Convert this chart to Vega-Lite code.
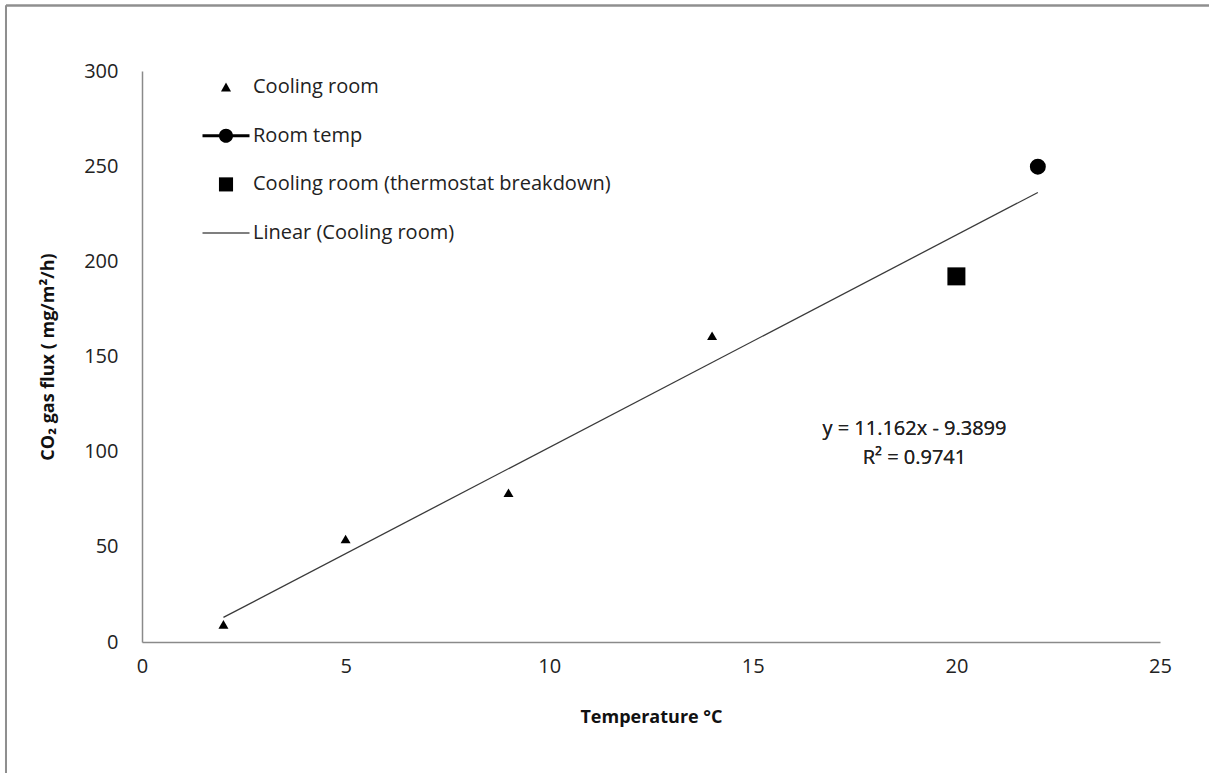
{
  "$schema": "https://vega.github.io/schema/vega-lite/v6.json",
  "width": 1018,
  "height": 571,
  "autosize": {"type": "none"},
  "padding": {"left": 142, "top": 71, "right": 49, "bottom": 131},
  "background": "white",
  "config": {
    "view": {"stroke": null},
    "font": "Open Sans",
    "axis": {
      "grid": false,
      "ticks": false,
      "labelFlush": false,
      "domainColor": "#8a8a8a",
      "domainWidth": 1.5,
      "labelFont": "Open Sans",
      "labelFontSize": 20,
      "labelColor": "#222222",
      "titleFont": "Open Sans",
      "titleFontSize": 18,
      "titleFontWeight": "bold",
      "titleColor": "#111111"
    }
  },
  "datasets": {
    "points": [
      {"temperature": 2, "flux": 9.3, "series": "Cooling room"},
      {"temperature": 5, "flux": 54.1, "series": "Cooling room"},
      {"temperature": 9, "flux": 78.4, "series": "Cooling room"},
      {"temperature": 14, "flux": 160.9, "series": "Cooling room"},
      {"temperature": 22, "flux": 249.7, "series": "Room temp"},
      {"temperature": 20, "flux": 192.1, "series": "Cooling room (thermostat breakdown)"}
    ],
    "trend": [
      {"temperature": 2, "flux": 12.93, "series": "Linear (Cooling room)"},
      {"temperature": 22, "flux": 236.17, "series": "Linear (Cooling room)"}
    ]
  },
  "encoding": {
    "x": {
      "field": "temperature",
      "type": "quantitative",
      "scale": {"domain": [0, 25], "nice": false, "zero": false},
      "axis": {
        "values": [0, 5, 10, 15, 20, 25],
        "labelPadding": 14,
        "title": "Temperature °C",
        "titlePadding": 32
      }
    },
    "y": {
      "field": "flux",
      "type": "quantitative",
      "scale": {"domain": [0, 300], "nice": false, "zero": false},
      "axis": {
        "values": [0, 50, 100, 150, 200, 250, 300],
        "labelPadding": 24,
        "title": "CO₂ gas flux ( mg/m²/h)",
        "titlePadding": 26
      }
    }
  },
  "layer": [
    {
      "data": {"name": "trend"},
      "mark": {"type": "rule", "color": "#8f8f8f", "strokeWidth": 2, "clip": false},
      "encoding": {
        "x": {"datum": -3.34, "type": "quantitative"},
        "y": {"datum": 334.4, "type": "quantitative"},
        "y2": {"datum": -75}
      }
    },
    {
      "data": {"name": "trend"},
      "mark": {"type": "rule", "color": "#8f8f8f", "strokeWidth": 2, "clip": false},
      "encoding": {
        "x": {"datum": -3.34, "type": "quantitative"},
        "x2": {"datum": 27},
        "y": {"datum": 334.4, "type": "quantitative"}
      }
    },
    {
      "data": {"name": "trend"},
      "mark": {"type": "line", "color": "#3a3a3a", "strokeWidth": 1.3}
    },
    {
      "data": {"name": "points"},
      "transform": [{"filter": "datum.series === 'Cooling room'"}],
      "mark": {"type": "point", "shape": "triangle-up", "filled": true, "color": "black", "opacity": 1, "size": 100}
    },
    {
      "data": {"name": "points"},
      "transform": [{"filter": "datum.series === 'Room temp'"}],
      "mark": {"type": "point", "shape": "circle", "filled": true, "color": "black", "opacity": 1, "size": 254}
    },
    {
      "data": {"name": "points"},
      "transform": [{"filter": "datum.series === 'Cooling room (thermostat breakdown)'"}],
      "mark": {"type": "point", "shape": "square", "filled": true, "color": "black", "opacity": 1, "size": 324}
    },
    {
      "data": {"name": "points"},
      "transform": [{"filter": "false"}],
      "mark": {"type": "point", "filled": true, "color": "black", "opacity": 1},
      "encoding": {
        "shape": {
          "field": "series",
          "type": "nominal",
          "scale": {
            "domain": ["Cooling room", "Room temp", "Cooling room (thermostat breakdown)", "Linear (Cooling room)"],
            "range": [
              "M0,-0.19L0.213,0.19L-0.213,0.19Z",
              "M-1,-0.064H1V0.064H-1Z M0.3,0A0.3,0.3 0 1,1 -0.3,0A0.3,0.3 0 1,1 0.3,0Z",
              "M-0.3,-0.3H0.3V0.3H-0.3Z",
              "M-1,-0.022H1V0.022H-1Z"
            ]
          },
          "legend": {
            "title": null,
            "orient": "none",
            "legendX": 60.5,
            "legendY": -7.5,
            "padding": 0,
            "symbolSize": 2209,
            "symbolType": "circle",
            "symbolFillColor": "black",
            "symbolStrokeWidth": 0,
            "symbolOpacity": 1,
            "rowPadding": 14.7,
            "labelOffset": 3.5,
            "labelFont": "Open Sans",
            "labelFontSize": 20,
            "labelColor": "#222222",
            "labelLimit": 600
          }
        }
      }
    },
    {
      "data": {"name": "trend"},
      "mark": {"type": "text", "font": "Open Sans", "fontSize": 20, "color": "#222222", "align": "center", "baseline": "middle"},
      "encoding": {
        "x": {"datum": 18.97, "type": "quantitative"},
        "y": {"datum": 111.9, "type": "quantitative"},
        "text": {"value": "y = 11.162x - 9.3899"}
      }
    },
    {
      "data": {"name": "trend"},
      "mark": {"type": "text", "font": "Open Sans", "fontSize": 20, "color": "#222222", "align": "center", "baseline": "middle"},
      "encoding": {
        "x": {"datum": 18.97, "type": "quantitative"},
        "y": {"datum": 96.7, "type": "quantitative"},
        "text": {"value": "R² = 0.9741"}
      }
    }
  ]
}
